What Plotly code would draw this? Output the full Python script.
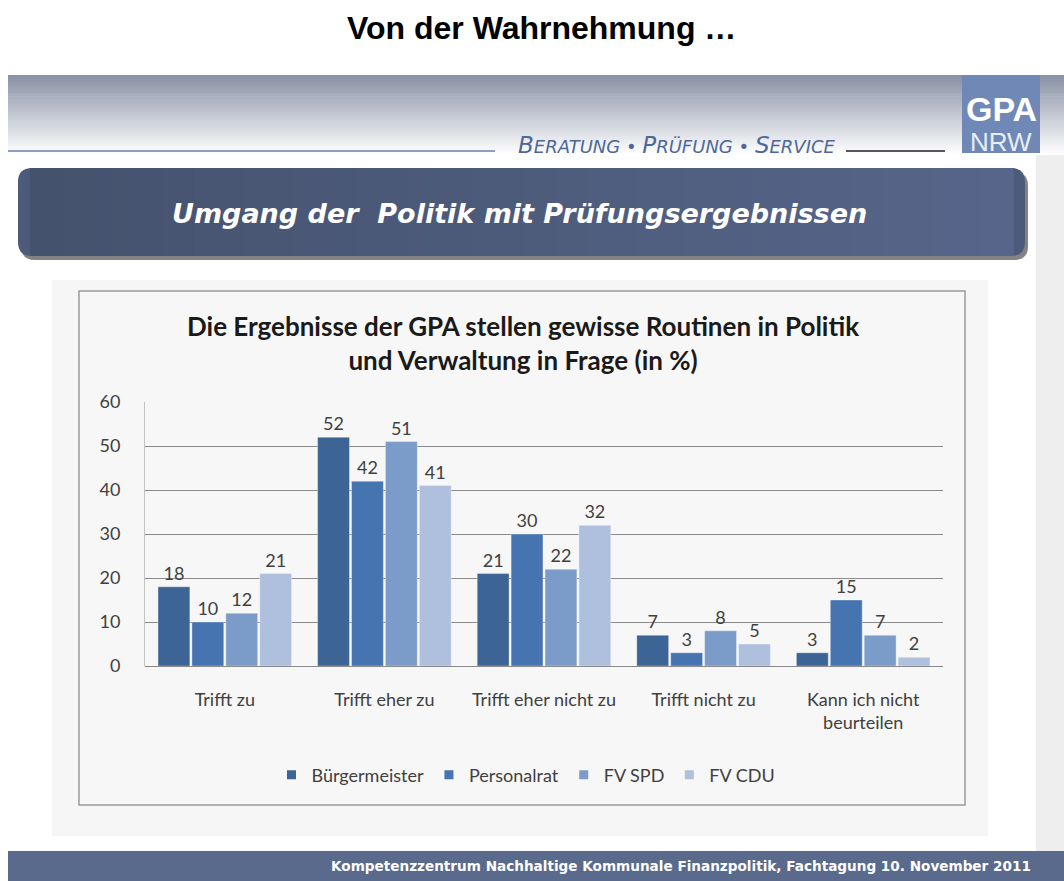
import plotly.graph_objects as go

W, H = 1064, 881

categories = ["Trifft zu", "Trifft eher zu", "Trifft eher nicht zu", "Trifft nicht zu",
              "Kann ich nicht<br>beurteilen"]
series_names = ["Bürgermeister", "Personalrat", "FV SPD", "FV CDU"]
buergermeister = [18, 52, 21, 7, 3]
personalrat = [10, 42, 30, 3, 15]
fv_spd = [12, 51, 22, 8, 7]
fv_cdu = [21, 41, 32, 5, 2]
series_values = [buergermeister, personalrat, fv_spd, fv_cdu]
colors = ["#3c6494", "#4674b0", "#7b9bc8", "#aec0dd"]
y_ticks = [0, 10, 20, 30, 40, 50, 60]


def px(x):
    return x / W


def py(y):
    return 1 - y / H


def lerp(c1, c2, t):
    return "rgb(%d,%d,%d)" % tuple(round(a + (b - a) * t) for a, b in zip(c1, c2))


CHART_FONT = "Lato, Carlito, 'Open Sans', sans-serif"
TXT = "#404040"

fig = go.Figure()

for name, vals, col in zip(series_names, series_values, colors):
    fig.add_trace(go.Bar(
        x=categories, y=vals, name=name,
        marker=dict(color=col, line=dict(color="rgba(255,255,255,0.6)", width=0.6)),
        text=vals, textposition="outside",
        textfont=dict(family=CHART_FONT, size=18, color=TXT),
        cliponaxis=False, showlegend=False,
    ))
# legend entries (small square markers)
for name, col in zip(series_names, colors):
    fig.add_trace(go.Scatter(
        x=[None], y=[None], mode="markers", name=name,
        marker=dict(symbol="square", size=9, color=col),
        showlegend=True,
    ))

shapes = []
# header gradient
y0, y1 = 75, 152
n = 40
c_top, c_bot = (136, 145, 166), (250, 250, 251)
for i in range(n):
    ya = y0 + (y1 - y0) * i / n
    yb = y0 + (y1 - y0) * (i + 1) / n + 0.6
    shapes.append(dict(type="rect", xref="paper", yref="paper",
                       x0=px(8), x1=px(1064), y0=py(yb), y1=py(ya),
                       fillcolor=lerp(c_top, c_bot, i / (n - 1)),
                       line=dict(width=0), layer="below"))
# right gray strip
shapes.append(dict(type="rect", xref="paper", yref="paper",
                   x0=px(1036), x1=px(1064), y0=py(851), y1=py(155),
                   fillcolor="#eeeeee", line=dict(width=0), layer="below"))
# header lines
shapes.append(dict(type="line", xref="paper", yref="paper",
                   x0=px(8), x1=px(495), y0=py(151), y1=py(151),
                   line=dict(color="#6d7fa5", width=1.5), layer="below"))
shapes.append(dict(type="line", xref="paper", yref="paper",
                   x0=px(846), x1=px(945), y0=py(151), y1=py(151),
                   line=dict(color="#222222", width=1.5), layer="below"))
# logo box
shapes.append(dict(type="rect", xref="paper", yref="paper",
                   x0=px(962), x1=px(1040), y0=py(153), y1=py(75),
                   fillcolor="#6f88b6", line=dict(width=0), layer="below"))


def rounded_path(x0, y0_, x1, y1_, r):
    rx, ry = r / W, r / H
    X0, X1 = px(x0), px(x1)
    Yt, Yb = py(y0_), py(y1_)
    return (f"M {X0 + rx},{Yt} L {X1 - rx},{Yt} Q {X1},{Yt} {X1},{Yt - ry} "
            f"L {X1},{Yb + ry} Q {X1},{Yb} {X1 - rx},{Yb} "
            f"L {X0 + rx},{Yb} Q {X0},{Yb} {X0},{Yb + ry} "
            f"L {X0},{Yt - ry} Q {X0},{Yt} {X0 + rx},{Yt} Z")


# title bar shadow + body
shapes.append(dict(type="path", xref="paper", yref="paper",
                   path=rounded_path(21, 172, 1028, 260, 14),
                   fillcolor="rgba(90,90,90,0.75)", line=dict(width=0), layer="below"))
shapes.append(dict(type="path", xref="paper", yref="paper",
                   path=rounded_path(18, 168, 1025, 256, 14),
                   fillcolor="#4d5b7b", line=dict(width=0), layer="below"))
cl, cr = (69, 82, 110), (86, 101, 137)
m = 60
xa0, xa1 = 30, 1013
for i in range(m):
    xa = xa0 + (xa1 - xa0) * i / m
    xb = xa0 + (xa1 - xa0) * (i + 1) / m + 0.8
    shapes.append(dict(type="rect", xref="paper", yref="paper",
                       x0=px(xa), x1=px(xb), y0=py(256), y1=py(168),
                       fillcolor=lerp(cl, cr, i / (m - 1)),
                       line=dict(width=0), layer="below"))
# chart outer background and frame
shapes.append(dict(type="rect", xref="paper", yref="paper",
                   x0=px(52), x1=px(988), y0=py(836), y1=py(280),
                   fillcolor="#f6f6f6", line=dict(width=0), layer="below"))
shapes.append(dict(type="rect", xref="paper", yref="paper",
                   x0=px(79), x1=px(965), y0=py(805), y1=py(291),
                   fillcolor="#f7f7f7", line=dict(color="#9a9a9a", width=1.5), layer="below"))
# footer
shapes.append(dict(type="rect", xref="paper", yref="paper",
                   x0=px(8), x1=px(1064), y0=py(881), y1=py(851),
                   fillcolor="#596a8c", line=dict(width=0), layer="below"))


def smallcaps(word):
    return f"<span style='font-size:23px'>{word[0]}</span>{word[1:]}"


header_words = ["BERATUNG", "PRÜFUNG", "SERVICE"]
header_text = " • ".join(smallcaps(w) for w in header_words)

annotations = [
    dict(text="<b>Von der Wahrnehmung …</b>", x=px(541), y=py(28), xref="paper", yref="paper",
         showarrow=False, xanchor="center", yanchor="middle",
         font=dict(family="'Liberation Sans', Arial, sans-serif", size=32, color="#000000")),
    dict(text=header_text, x=px(838), y=py(145), xref="paper", yref="paper",
         showarrow=False, xanchor="right", yanchor="middle",
         font=dict(family="'DejaVu Sans', sans-serif", size=18,
                   color="#4d6898", style="italic")),
    dict(text="<b>GPA</b>", x=px(1001), y=py(109), xref="paper", yref="paper",
         showarrow=False, xanchor="center", yanchor="middle",
         font=dict(family="'Liberation Sans Narrow', 'Liberation Sans', Arial, sans-serif",
                   size=34, color="#ffffff")),
    dict(text="NRW", x=px(1001), y=py(142), xref="paper", yref="paper",
         showarrow=False, xanchor="center", yanchor="middle",
         font=dict(family="'Liberation Sans Narrow', 'Liberation Sans', Arial, sans-serif",
                   size=26, color="#e8eef8")),
    dict(text="<b><i>Umgang der\u00a0 Politik mit Prüfungsergebnissen</i></b>",
         x=px(519), y=py(213), xref="paper", yref="paper",
         showarrow=False, xanchor="center", yanchor="middle",
         font=dict(family="'DejaVu Sans', sans-serif", size=27, color="#ffffff")),
    dict(text="<b>Die Ergebnisse der GPA stellen gewisse Routinen in Politik<br>"
              "und Verwaltung in Frage (in %)</b>",
         x=px(523), y=py(343), xref="paper", yref="paper",
         showarrow=False, xanchor="center", yanchor="middle",
         font=dict(family=CHART_FONT, size=26, color="#1a1a1a")),
    dict(text="Kompetenzzentrum Nachhaltige Kommunale Finanzpolitik, Fachtagung 10. November 2011",
         x=px(1033), y=py(866), xref="paper", yref="paper",
         showarrow=False, xanchor="right", yanchor="middle",
         font=dict(family="'DejaVu Sans', sans-serif", size=13.6,
                   color="#ffffff", weight="bold")),
]

fig.update_layout(
    width=W, height=H,
    margin=dict(l=0, r=0, t=0, b=0, pad=0, autoexpand=False),
    paper_bgcolor="#ffffff", plot_bgcolor="rgba(0,0,0,0)",
    barmode="group", bargap=0.15, bargroupgap=0.06,
    shapes=shapes, annotations=annotations,
    showlegend=True,
    legend=dict(orientation="h", x=px(526), xanchor="center", y=py(775), yanchor="middle",
                font=dict(family=CHART_FONT, size=18, color=TXT),
                bgcolor="rgba(0,0,0,0)", itemwidth=30, tracegroupgap=0),
    xaxis=dict(domain=[px(145), px(943)], type="category",
               showgrid=False, showline=False, ticks="",
               tickfont=dict(family=CHART_FONT, size=18, color=TXT),
               ticklabelstandoff=21, fixedrange=True),
    yaxis=dict(domain=[py(666), py(402)], range=[0, 60], tickvals=y_ticks,
               showgrid=True, gridcolor="#8a8a8a", gridwidth=1,
               zeroline=True, zerolinecolor="#8a8a8a", zerolinewidth=1,
               showline=True, linecolor="#c4c4c4", linewidth=1, ticks="",
               tickfont=dict(family=CHART_FONT, size=18, color=TXT),
               ticklabelstandoff=20, fixedrange=True),
)

fig.write_html(
    "out.html",
    config={"displayModeBar": False},
    post_script="document.body.style.margin='0';document.body.style.overflow='hidden';",
)
